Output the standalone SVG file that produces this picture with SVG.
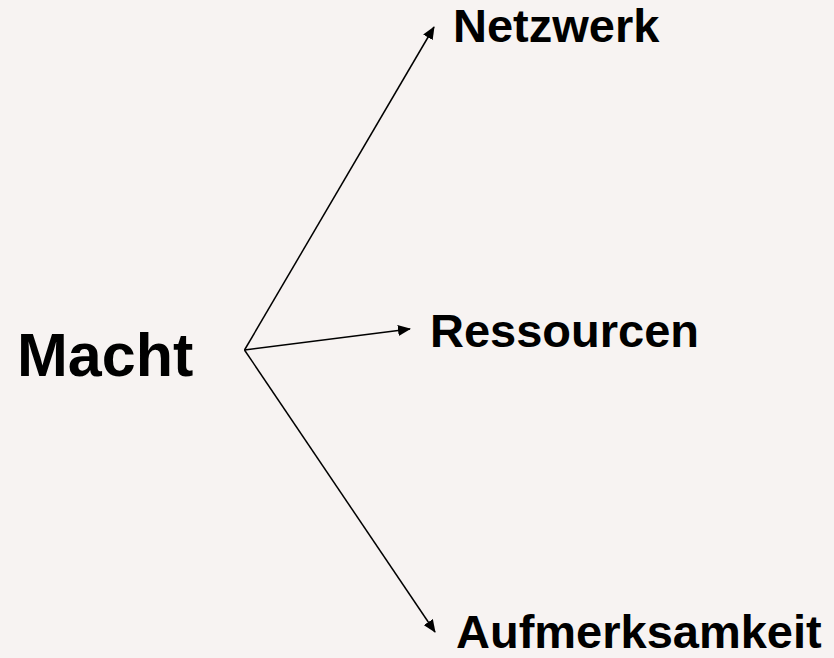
<svg xmlns="http://www.w3.org/2000/svg" width="834" height="658" viewBox="0 0 834 658">
<style>
text{font-family:"Liberation Sans",Arial,sans-serif;font-weight:bold;fill:#000}
.lbl{font-size:47px}
.c line{stroke:#000;stroke-width:1.5}
</style>
<defs>
<marker id="ah" viewBox="0 0 13 11" refX="12" refY="5.5" markerWidth="13" markerHeight="11" markerUnits="userSpaceOnUse" orient="auto">
<path d="M0,0 L13,5.5 L0,11 z" fill="#000"/>
</marker>
</defs>
<rect width="834" height="658" fill="#f7f3f2"/>
<g class="c" id="connectors">
<line x1="244.5" y1="350" x2="434" y2="27" marker-end="url(#ah)"/>
<line x1="244.5" y1="350" x2="410" y2="329" marker-end="url(#ah)"/>
<line x1="244.5" y1="350" x2="435" y2="632" marker-end="url(#ah)"/>
</g>
<g id="macht"><text x="17" y="376" font-size="61">Macht</text></g>
<g id="netzwerk"><text x="453" y="42" class="lbl">Netzwerk</text></g>
<g id="ressourcen"><text x="430" y="347" class="lbl">Ressourcen</text></g>
<g id="aufmerksamkeit"><text x="456" y="648" class="lbl">Aufmerksamkeit</text></g>
</svg>
